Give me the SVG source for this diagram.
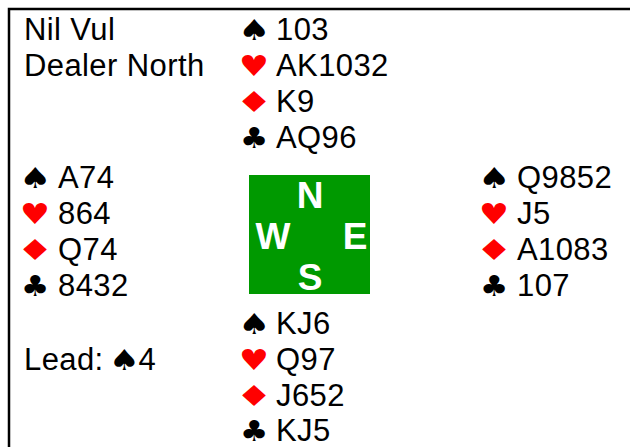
<svg xmlns="http://www.w3.org/2000/svg" width="630" height="447" viewBox="0 0 630 447">
<style>
.t{font-family:"Liberation Sans",Arial,sans-serif;font-size:31px;letter-spacing:0.4px;fill:#000}
.s{font-family:"DejaVu Sans",sans-serif;font-size:29px;text-anchor:middle}
.b{fill:#000}
.r{fill:#ff0000}
.c{font-family:"Liberation Sans",Arial,sans-serif;font-size:37px;font-weight:bold;fill:#fff;text-anchor:middle}
</style>
<rect x="0" y="0" width="630" height="447" fill="#fff"/>
<path d="M9 460 V9 H640" fill="none" stroke="#000" stroke-width="2.5"/>
<g id="info">
<text class="t" x="24" y="40">Nil Vul</text>
<text class="t" x="24" y="76">Dealer North</text>
</g>
<g id="north">
<text class="s b" transform="translate(254,40) scale(1.25,1)">♠</text><text class="t" x="276" y="40">103</text>
<text class="s r" transform="translate(254,76) scale(1.15,1)">♥</text><text class="t" x="276" y="76">AK1032</text>
<text class="s r" transform="translate(254,112) scale(1.45,1)">♦</text><text class="t" x="276" y="112">K9</text>
<text class="s b" transform="translate(254,148) scale(1.1,1)">♣</text><text class="t" x="276" y="148">AQ96</text>
</g>
<g id="west">
<text class="s b" transform="translate(35,188) scale(1.25,1)">♠</text><text class="t" x="58" y="188">A74</text>
<text class="s r" transform="translate(35,224) scale(1.15,1)">♥</text><text class="t" x="58" y="224">864</text>
<text class="s r" transform="translate(35,260) scale(1.45,1)">♦</text><text class="t" x="58" y="260">Q74</text>
<text class="s b" transform="translate(35,296) scale(1.1,1)">♣</text><text class="t" x="58" y="296">8432</text>
</g>
<g id="east">
<text class="s b" transform="translate(494,188) scale(1.25,1)">♠</text><text class="t" x="517" y="188">Q9852</text>
<text class="s r" transform="translate(494,224) scale(1.15,1)">♥</text><text class="t" x="517" y="224">J5</text>
<text class="s r" transform="translate(494,260) scale(1.45,1)">♦</text><text class="t" x="517" y="260">A1083</text>
<text class="s b" transform="translate(494,296) scale(1.1,1)">♣</text><text class="t" x="517" y="296">107</text>
</g>
<g id="south">
<text class="s b" transform="translate(254,334) scale(1.25,1)">♠</text><text class="t" x="276" y="334">KJ6</text>
<text class="s r" transform="translate(254,370) scale(1.15,1)">♥</text><text class="t" x="276" y="370">Q97</text>
<text class="s r" transform="translate(254,406) scale(1.45,1)">♦</text><text class="t" x="276" y="406">J652</text>
<text class="s b" transform="translate(254,441) scale(1.1,1)">♣</text><text class="t" x="276" y="441">KJ5</text>
</g>
<g id="lead">
<text class="t" x="24" y="370">Lead:</text><text class="s b" transform="translate(124,370) scale(1.2,1)">♠</text><text class="t" x="138.5" y="370">4</text>
</g>
<g id="compass">
<rect x="249" y="175" width="121" height="119" fill="#009900"/>
<text class="c" x="310" y="208">N</text>
<text class="c" x="273" y="249">W</text>
<text class="c" x="355" y="249">E</text>
<text class="c" x="310" y="290">S</text>
</g>
</svg>
